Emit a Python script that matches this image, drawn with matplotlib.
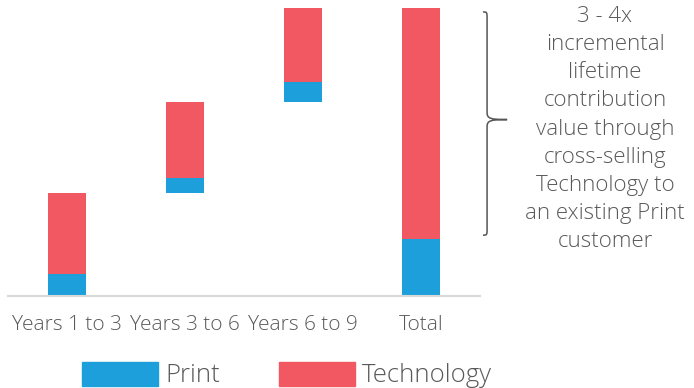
import numpy as np
import matplotlib
matplotlib.use("Agg")
import matplotlib.pyplot as plt
from matplotlib.path import Path
from matplotlib.patches import PathPatch, Patch

plt.rcParams['font.family'] = ['Open Sans', 'DejaVu Sans']

categories = ["Years 1 to 3", "Years 3 to 6", "Years 6 to 9", "Total"]
print_vals = [22.3, 15.0, 20.0]
tech_vals = [81.7, 76.0, 75.0]
series_names = ["Print", "Technology"]
note = ("3 - 4x\nincremental\nlifetime\ncontribution\nvalue through\n"
        "cross-selling\nTechnology to\nan existing Print\ncustomer")

BLUE = "#1c9fdb"
RED = "#f15861"
GREY = "#595959"

# waterfall: each step starts where the previous one ended, last bar is the total
step = np.array(print_vals) + np.array(tech_vals)
bottoms = np.concatenate([[0], np.cumsum(step)[:-1]])
p = np.array(print_vals + [sum(print_vals)])
t = np.array(tech_vals + [sum(tech_vals)])
b = np.concatenate([bottoms, [0]])
total = p[-1] + t[-1]

fig = plt.figure(figsize=(6.94, 3.88), dpi=100)
ax = fig.add_axes([8 / 694, 92 / 388, 472 / 694, 288 / 388])

x = np.arange(len(categories))
w = 0.314
ax.bar(x, p, w, bottom=b, color=BLUE)
ax.bar(x, t, w, bottom=b + p, color=RED)

ax.set_xlim(-0.5, 3.5)
ax.set_ylim(0, total)
ax.set_xticks(x)
ax.set_xticklabels(categories, fontsize=15, color=GREY, fontweight='light')
ax.tick_params(axis='x', length=0, pad=14)
ax.set_yticks([])
for s in ["top", "right", "left"]:
    ax.spines[s].set_visible(False)
ax.spines["bottom"].set_color("#d9d9d9")
ax.spines["bottom"].set_linewidth(1.5)

# curly brace next to the technology part of the total bar
y0 = p[-1] + 4
y1 = total - 4
ym = (y0 + y1) / 2 + 4
xs, xv, xt = 3.525, 3.56, 3.73
r = 7
verts = [(xs, y1), (xv, y1), (xv, y1), (xv, y1 - r),
         (xv, ym + r),
         (xv, ym + 1), (xv + 0.03, ym), (xt, ym),
         (xv + 0.03, ym), (xv, ym - 1), (xv, ym - r),
         (xv, y0 + r),
         (xv, y0), (xv, y0), (xs, y0)]
codes = [Path.MOVETO, Path.CURVE4, Path.CURVE4, Path.CURVE4,
         Path.LINETO,
         Path.CURVE4, Path.CURVE4, Path.CURVE4,
         Path.CURVE4, Path.CURVE4, Path.CURVE4,
         Path.LINETO,
         Path.CURVE4, Path.CURVE4, Path.CURVE4]
ax.add_patch(PathPatch(Path(verts, codes), fill=False, edgecolor="#555555",
                       linewidth=1.1, clip_on=False))

fig.text(605 / 694, 1 - 129 / 388, note, ha="center", va="center",
         fontsize=16, color=GREY, linespacing=1.45, fontweight='light')

handles = [Patch(color=BLUE, label=series_names[0]),
           Patch(color=RED, label=series_names[1])]
fig.legend(handles=handles, loc="center", bbox_to_anchor=(287 / 694, 1 - 375 / 388),
           ncol=2, frameon=False, handlelength=2.96, handleheight=1.09,
           handletextpad=0.27, columnspacing=2.3, labelcolor=GREY,
           prop={'weight': 'light', 'size': 18.5})

fig.savefig("out.png", dpi=100)
